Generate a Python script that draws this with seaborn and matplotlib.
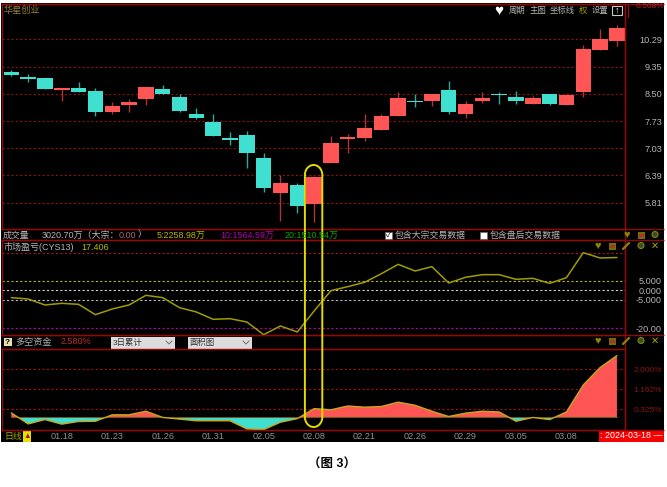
import numpy as np
import matplotlib
matplotlib.use("Agg")
import matplotlib.pyplot as plt
from matplotlib.patches import Rectangle, Circle
from matplotlib.ticker import NullLocator
import seaborn as sns

# Daily candles
opens = [9.18, 9.03, 8.98, 8.62, 8.68, 8.60, 7.97, 8.17, 8.34, 8.64, 8.40, 7.91, 7.70, 7.28, 7.37, 6.80, 6.00, 6.19,
         5.79, 6.67, 7.26, 7.29, 7.48, 7.86, 8.29, 8.28, 8.62, 7.91, 8.30, 8.50, 8.41, 8.22, 8.49, 8.19, 8.55, 9.91, 10.23]
closes = [9.08, 8.97, 8.66, 8.68, 8.55, 7.97, 8.16, 8.27, 8.70, 8.51, 8.01, 7.80, 7.34, 7.24, 6.92, 6.11, 6.22, 5.75,
          6.36, 7.17, 7.31, 7.54, 7.88, 8.39, 8.27, 8.51, 7.97, 8.21, 8.39, 8.46, 8.30, 8.39, 8.21, 8.47, 9.94, 10.30, 10.71]
highs = [9.23, 9.10, 8.98, 8.68, 8.86, 8.68, 8.25, 8.35, 8.70, 8.76, 8.51, 8.09, 7.92, 7.43, 7.47, 6.91, 6.40, 6.22,
         6.38, 7.34, 7.38, 7.93, 7.92, 8.55, 8.49, 8.51, 8.89, 8.29, 8.56, 8.56, 8.59, 8.44, 8.51, 8.50, 10.10, 10.67, 10.83]
lows = [9.04, 8.87, 8.65, 8.30, 8.55, 7.88, 7.93, 7.97, 8.17, 8.49, 7.97, 7.78, 7.33, 7.10, 6.55, 6.04, 5.45, 5.61,
        5.42, 6.67, 6.92, 7.21, 7.48, 7.86, 8.11, 8.15, 7.93, 7.80, 8.24, 8.22, 8.22, 8.21, 8.19, 8.18, 8.40, 9.91, 10.05]
price_ticks = [5.81, 6.39, 7.03, 7.73, 8.50, 9.35, 10.29]

# Market profit and loss (CYS13)
cys13 = [-3.89, -4.60, -7.78, -6.90, -7.43, -12.91, -9.90, -7.78, -2.65, -3.89, -9.20, -11.49, -15.38, -15.03, -16.80,
         -23.52, -18.92, -22.10, -10.96, -0.18, 1.95, 4.24, 8.84, 13.79, 10.26, 12.56, 3.89, 6.90, 8.31, 8.31, 5.84,
         6.37, 3.71, 6.72, 19.98, 17.15, 17.41]
cys_ticks = [-20, -5, 0, 5, 20]
cys_labels = ["-20.00", "-5.000", "0.000", "5.000", ""]
cys_colors = ["#b000b0", "#b8b8b8", "#d0d0d0", "#b8b800", "#a01818"]

# Long/short money, 3 day total, in percent
money = [0.18, -0.28, -0.10, -0.29, -0.18, -0.17, 0.10, 0.10, 0.25, -0.01, -0.08, -0.15, -0.15, -0.15, -0.49, -0.52,
         -0.21, -0.06, 0.36, 0.31, 0.47, 0.42, 0.45, 0.63, 0.50, 0.25, 0.03, 0.17, 0.25, 0.22, -0.17, -0.01, -0.10,
         0.22, 1.35, 2.08, 2.58]
money_ticks = [0.325, 1.162, 2.000]
money_labels = ["0.325%", "1.162%", "2.000%"]

date_labels = ["01.18", "01.23", "01.26", "01.31", "02.05", "02.08", "02.21", "02.26", "02.29", "03.05", "03.08"]

RED = "#ff5555"
CYAN = "#40e0d0"
FRAME = "#8c0a0a"
GREY = "#b4b4b4"

sns.set_theme(style="dark")
plt.rcParams["font.family"] = ["Liberation Sans", "Noto Sans CJK SC", "DejaVu Sans"]
plt.rcParams["font.size"] = 6.5
plt.rcParams["xtick.labelsize"] = 6.6
plt.rcParams["ytick.labelsize"] = 6.6

W, H = 667, 487
fig = plt.figure(figsize=(W / 100, H / 100), dpi=100, facecolor="white")


def panel(top, bottom):
    ax = fig.add_axes([2 / W, 1 - bottom / H, 623 / W, (bottom - top) / H], facecolor="black")
    for s in ax.spines.values():
        s.set_color(FRAME)
        s.set_linewidth(1.0)
    ax.set_xlim(-0.553, 36.48)
    ax.tick_params(axis="y", left=False, labelleft=False, right=True, labelright=True, length=0, pad=26.6)
    ax.tick_params(axis="x", bottom=False, labelbottom=False, length=0)
    ax.set_xlabel("")
    ax.set_ylabel("")
    return ax


# black backing behind the panels
bg = fig.add_axes([0, 0, 1, 1], zorder=-1)
bg.set_xlim(0, W)
bg.set_ylim(H, 0)
bg.axis("off")
bg.add_patch(Rectangle((1, 3), 663, 439, color="black", lw=0))

days = np.arange(len(opens))
opens = np.array(opens)
closes = np.array(closes)
highs = np.array(highs)
lows = np.array(lows)

# Price panel
ax1 = panel(4, 229)
body_low = np.minimum(opens, closes)
body_high = np.maximum(opens, closes)
sns.barplot(x=days, y=body_high - body_low, bottom=body_low, native_scale=True, width=0.92, errorbar=None,
            color=RED, saturation=1, ax=ax1, zorder=3)
up = closes >= opens
for patch, is_up in zip(ax1.patches, up):
    patch.set_facecolor(RED if is_up else CYAN)
    patch.set_edgecolor("none")
ax1.vlines(days, lows, highs, colors=["#b03434" if u else "#2fa89c" for u in up], lw=1.0, zorder=2)
ax1.set_yscale("log")
ax1.set_ylim(5.298, 11.645)
ax1.set_xlim(-0.553, 36.48)
ax1.yaxis.set_minor_locator(NullLocator())
ax1.yaxis.set_minor_formatter(plt.NullFormatter())
ax1.set_yticks(price_ticks, [f"{v:.2f}" for v in price_ticks])
ax1.grid(False)
for v in price_ticks:
    ax1.axhline(v, color="#8c1010", lw=0.8, ls=(0, (2, 2)), zorder=1)
ax1.tick_params(axis="y", colors=GREY, which="major")
ax1.set_xlabel("")
ax1.set_ylabel("")

# CYS13 panel
ax2 = panel(240, 335)
ax2.set_ylim(-23.7, 26.7)
for v, c in zip(cys_ticks, cys_colors):
    ax2.axhline(v, color=c, lw=0.8, ls=(0, (2, 2)), zorder=1)
sns.lineplot(x=days, y=cys13, color="#a09c00", lw=1.1, ax=ax2, zorder=3)
ax2.set_yticks(cys_ticks, cys_labels)
ax2.set_xlim(-0.553, 36.48)
ax2.grid(False)
ax2.tick_params(axis="y", colors=GREY)
ax2.set_xlabel("")
ax2.set_ylabel("")

# Long/short money panel
ax3 = panel(349, 430)
ax3.set_ylim(-0.536, 2.857)
money_arr = np.array(money)
for v in money_ticks:
    ax3.axhline(v, color="#a01010", lw=0.8, ls=(0, (2, 2)), zorder=1)
ax3.fill_between(days, money_arr, 0, where=money_arr >= 0, interpolate=True, color=RED, lw=0, zorder=2)
ax3.fill_between(days, money_arr, 0, where=money_arr <= 0, interpolate=True, color=CYAN, lw=0, zorder=2)
ax3.plot(days, np.zeros(len(days)), color="#6a5a20", lw=0.8, zorder=3)
sns.lineplot(x=days, y=money_arr, color="#c8a818", lw=1.0, ax=ax3, zorder=4)
ax3.set_yticks(money_ticks, money_labels)
ax3.set_xticks(days[3::3][:len(date_labels)], date_labels)
ax3.set_xlim(-0.553, 36.48)
ax3.grid(False)
ax3.tick_params(axis="y", colors="#8c1414", labelsize=6)
ax3.tick_params(axis="x", colors="#909090", bottom=False, labelbottom=True, pad=1.5)
ax3.set_xlabel("")
ax3.set_ylabel("")

for ax in (ax1, ax2, ax3):
    for lab in ax.get_yticklabels():
        lab.set_ha("right")

# Overlay in pixel coordinates for the header strips and the marker loop
top = fig.add_axes([0, 0, 1, 1], zorder=10, facecolor="none")
top.set_xlim(0, W)
top.set_ylim(H, 0)
top.axis("off")


def label(x, y, s, color=GREY, size=6.5, ha="left", **kw):
    top.text(x, y, s, color=color, fontsize=size, ha=ha, va="center", **kw)


def hline(y, x0=1, x1=664):
    top.plot([x0, x1], [y, y], color=FRAME, lw=1.0, solid_capstyle="butt")


def icons(y, xs):
    top.text(xs[0], y, "♥", color="#8c8400", fontsize=8, ha="center", va="center")
    top.add_patch(Rectangle((xs[1] - 3.5, y - 3.5), 7, 7, fc="#707000", ec="none"))
    top.add_patch(Rectangle((xs[1] - 2.5, y - 1), 5, 3, fc="#b03030", ec="none"))
    if len(xs) == 4:
        # small double arrow icon
        top.plot([xs[2] - 3, xs[2] + 3], [y + 3, y - 3], color="#8c8400", lw=1.6)
    top.add_patch(Circle((xs[-1], y - 0.5), 3, fc="#305030", ec="#8c8400", lw=0.8))


# frame lines between strips
hline(4)
hline(229)
hline(240)
hline(335)
hline(349, x1=625)
hline(430)
top.plot([625, 625], [4, 430], color=FRAME, lw=1.0)
top.plot([628, 628], [5, 17], color="#a01010", lw=0.8)

# main panel header
label(4, 10.5, "华星创业", color="#94803c", size=6.6)
label(499, 10.5, "♥", color="white", size=11, ha="center")
label(509, 11, "周期", size=6)
label(530, 11, "主图", size=6)
label(550, 11, "坐标线", size=6)
label(579, 11, "权", color="#a8a000", size=6)
label(592, 11, "设置", size=6)
top.add_patch(Rectangle((612, 6), 10, 9, fc="black", ec="#c8c8c8", lw=0.8))
label(617, 10.5, "↑", color="white", size=6.5, ha="center", fontweight="bold")
label(664, 6.5, "0.508%", color="#c02020", size=6, ha="right")
top.add_patch(Rectangle((0, 0), W, 3, fc="white", ec="none", zorder=5))

# volume strip
label(3, 235, "成交量", size=6.4)
label(42, 235, "3020.70万（大宗：", size=6.5)
label(119, 235, "0.00", color="#a06868", size=6.5)
label(138, 235, "）", size=6.5)
label(157, 235, "5:2258.98万", color="#b8b800", size=6.4)
label(220, 235, "10:1564.59万", color="#b000b0", size=6.4)
label(285, 235, "20:1510.54万", color="#00a800", size=6.4)
top.add_patch(Rectangle((385, 231.5), 7, 7, fc="white", ec="#707070", lw=0.5))
label(388.5, 235, "✓", color="black", size=6, ha="center")
label(395, 235, "包含大宗交易数据", size=6.4)
top.add_patch(Rectangle((480, 231.5), 7, 7, fc="white", ec="#707070", lw=0.5))
label(490, 235, "包含盘后交易数据", size=6.4)
icons(235, [627, 641, 655])

# CYS13 header
label(3, 247, "市场盈亏(CYS13)", size=6.5)
label(81, 247, "17.406", color="#b8b800", size=6.5)
icons(246, [598, 612, 626, 641])
label(655, 245.5, "✕", color="#a8a000", size=7, ha="center")

# money header
top.add_patch(Rectangle((3.5, 338), 8, 8, fc="#e8e0b0", ec="none"))
label(7.5, 342, "?", color="black", size=6, ha="center", fontweight="bold")
label(15, 342, "多空资金", size=6.6)
label(61, 342, "2.580%", color="#c03030", size=6.5)
for x0, txt in zip([111, 188], ["3日累计", "面积图"]):
    top.add_patch(Rectangle((x0, 336.5), 64, 12, fc="#dcdcdc", ec="none"))
    label(x0 + 2, 342.5, txt, color="#303030", size=6)
    top.plot([x0 + 55, x0 + 58, x0 + 61], [341, 344, 341], color="#707070", lw=0.7)
icons(341, [598, 612, 626, 641])
label(655, 340.5, "✕", color="#a8a000", size=7, ha="center")

# date strip
label(4, 436, "日线", color="#a8a000", size=6.4)
top.add_patch(Rectangle((23, 431), 8, 11, fc="#e8e000", ec="none"))
label(27, 436.5, "▲", color="#b01010", size=5.5, ha="center")
top.add_patch(Rectangle((599, 430), 65, 12, fc="#f80000", ec="none"))
label(600, 436, ": 2024-03-18 —", color="white", size=6.4)

# yellow loop around the 02.08 candle
t = np.linspace(0, np.pi, 40)
cx, rx = 313.6, 8.7
loop_x = np.r_[cx - rx * np.cos(t), cx + rx * np.cos(t), cx - rx]
loop_y = np.r_[175 - 10 * np.sin(t), 417 + 10 * np.sin(t), 175]
top.plot(loop_x, loop_y, color="#e4dc00", lw=1.4)

# caption
label(332.5, 465, "（图 3）", color="black", size=9, ha="center", fontweight="bold")

fig.savefig("out.png", dpi=100, facecolor="white")
